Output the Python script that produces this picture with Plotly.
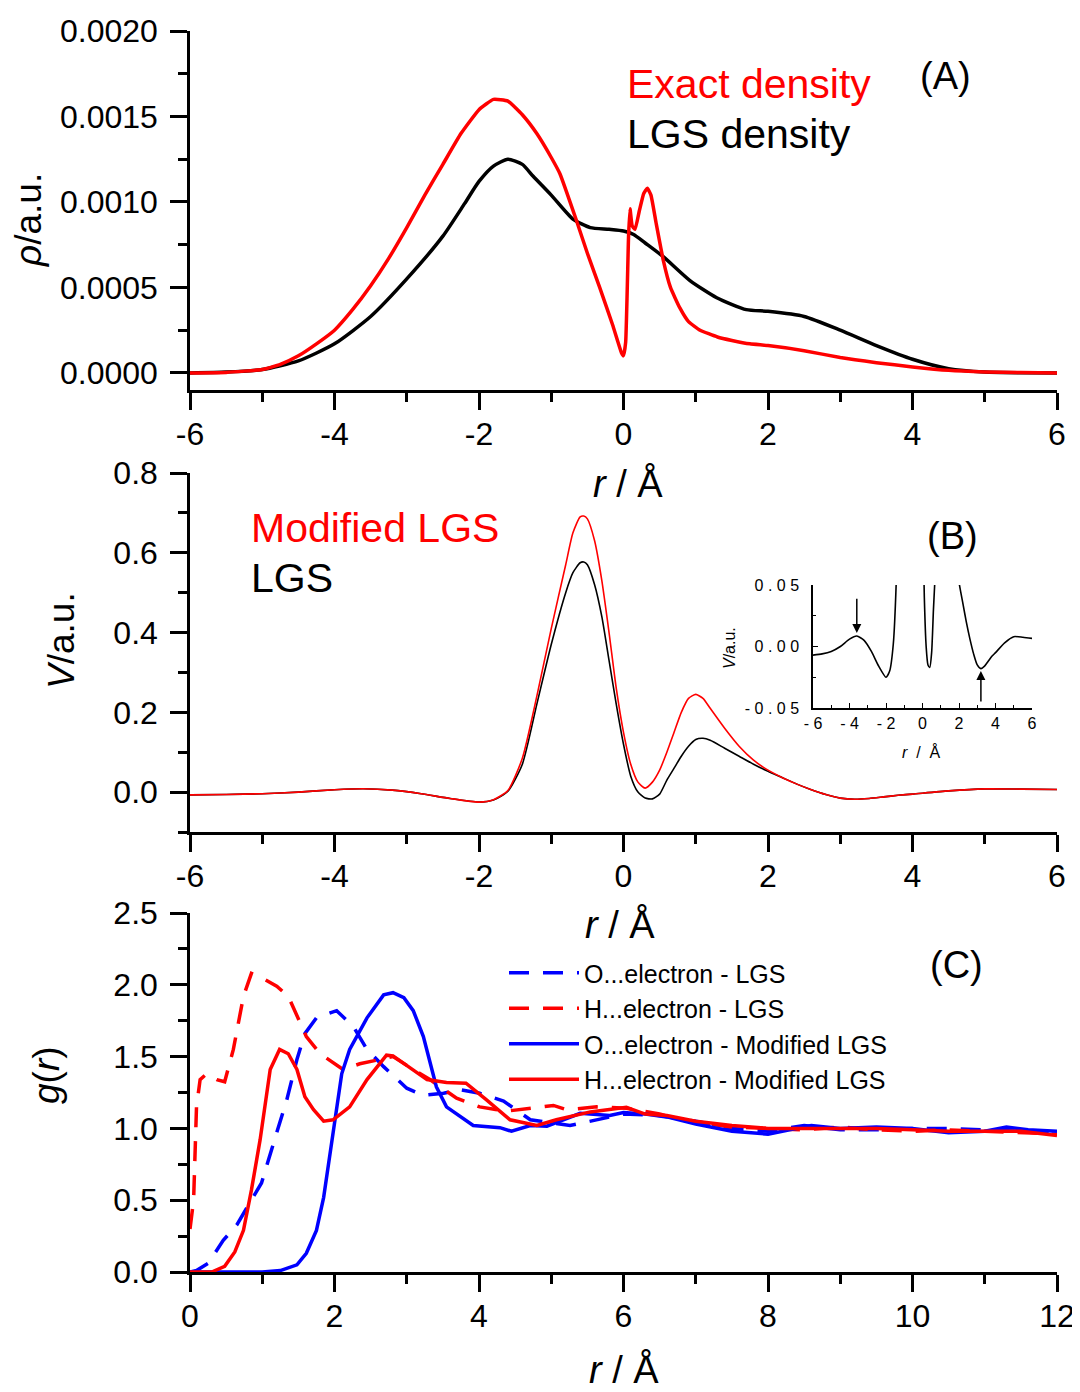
import plotly.graph_objects as go

W, H = 1080, 1392
OFF = 8  # page body margin of the html page
FONT = "Liberation Sans"

# ---------------- Panel A: densities ----------------
rA_exact = [-6.0, -5.5, -5.0, -4.75, -4.5, -4.25, -4.0, -3.75, -3.5, -3.25, -3.0, -2.75, -2.5,
            -2.25, -2.0, -1.8, -1.6, -1.4, -1.2, -1.0, -0.88, -0.65, -0.5, -0.33, -0.15, -0.03,
            0.0, 0.03, 0.07, 0.09, 0.12, 0.16, 0.22, 0.28, 0.33, 0.38, 0.45, 0.55, 0.65, 0.78,
            0.9, 1.06, 1.3, 1.5, 1.75, 2.0, 2.5, 3.0, 3.5, 4.0, 4.5, 5.0, 5.5, 6.0]
rho_exact = [0.0, 0.000003, 0.00002, 0.00005, 0.0001, 0.00017, 0.00025, 0.00037, 0.00051,
             0.00067, 0.00085, 0.00104, 0.00122, 0.0014, 0.00154, 0.00160, 0.00159, 0.00151,
             0.0014, 0.00126, 0.001165, 0.00089, 0.0007, 0.0005, 0.00028, 0.00012,
             0.0001, 0.00018, 0.0008, 0.00096, 0.00086, 0.00084, 0.00095, 0.00105, 0.00108,
             0.00104, 0.00088, 0.00066, 0.0005, 0.00038, 0.0003, 0.00025, 0.00021, 0.00019,
             0.00017, 0.00016, 0.00013, 0.00009, 0.00006, 0.000035, 0.000015, 0.000006,
             0.000002, 0.0]
rA_lgs = [-6.0, -5.5, -5.0, -4.5, -4.0, -3.5, -3.0, -2.5, -2.2, -2.0, -1.8, -1.6, -1.4, -1.25,
          -1.0, -0.7, -0.46, -0.2, 0.0, 0.14, 0.3, 0.55, 0.92, 1.29, 1.7, 2.0, 2.5, 3.0, 3.5,
          4.0, 4.5, 5.0, 5.5, 6.0]
rho_lgs = [0.0, 0.000005, 0.00002, 0.00007, 0.00017, 0.00033, 0.00055, 0.0008, 0.00099,
           0.00112, 0.00121, 0.00125, 0.00122, 0.00115, 0.00104, 0.0009, 0.00085, 0.00084,
           0.00083, 0.00081, 0.00076, 0.00068, 0.00054, 0.00044, 0.00037, 0.00036, 0.00033,
           0.00025, 0.00016, 0.00008, 0.000025, 0.000005, 0.000001, 0.0]

# ---------------- Panel B: potentials ----------------
rB = [-6.0, -5.5, -5.0, -4.5, -4.0, -3.6, -3.2, -2.8, -2.4, -2.0, -1.8, -1.6, -1.4, -1.2, -1.0,
      -0.8, -0.7, -0.6, -0.55, -0.5, -0.4, -0.3, -0.2, -0.1, 0.0, 0.1, 0.2, 0.3, 0.4, 0.5,
      0.6, 0.7, 0.8, 0.9, 1.0, 1.1, 1.2, 1.4, 1.6, 1.8, 2.0, 2.2, 2.4, 2.6, 2.8, 3.0, 3.2,
      3.4, 3.6, 3.8, 4.0, 4.5, 5.0, 5.5, 6.0]
V_lgs = [-0.007, -0.006, -0.004, 0.0, 0.006, 0.0085, 0.005, -0.004, -0.016, -0.025, -0.02,
         0.002, 0.07, 0.22, 0.37, 0.50, 0.55, 0.575, 0.577, 0.57, 0.52, 0.44, 0.33, 0.22,
         0.12, 0.04, 0.0, -0.015, -0.017, -0.005, 0.03, 0.06, 0.09, 0.115, 0.132, 0.135,
         0.13, 0.11, 0.09, 0.07, 0.052, 0.036, 0.02, 0.006, -0.006, -0.015, -0.018, -0.016,
         -0.012, -0.008, -0.005, 0.003, 0.008, 0.0075, 0.0066]
V_mod = [-0.007, -0.006, -0.004, 0.0, 0.006, 0.0085, 0.005, -0.004, -0.016, -0.025, -0.019,
         0.004, 0.085, 0.24, 0.41, 0.57, 0.65, 0.69, 0.692, 0.685, 0.63, 0.53, 0.40, 0.26,
         0.15, 0.07, 0.025, 0.01, 0.025, 0.055, 0.10, 0.15, 0.20, 0.235, 0.245, 0.235, 0.21,
         0.16, 0.115, 0.08, 0.055, 0.036, 0.02, 0.006, -0.006, -0.015, -0.018, -0.016,
         -0.012, -0.008, -0.005, 0.003, 0.008, 0.0075, 0.0066]

# ---------------- Panel C: radial distribution functions ----------------
r_O_lgs = [0.0, 0.09, 0.25, 0.46, 0.65, 0.99, 1.2, 1.34, 1.48, 1.59, 1.75, 2.03, 2.26, 2.45,
           2.68, 3.0, 3.23, 3.51, 3.74, 4.01, 4.34, 4.71, 5.26, 5.54, 5.86, 6.0, 6.5, 7.0, 7.5,
           8.0, 8.5, 9.0, 9.5, 10.0, 10.5, 11.0, 11.5, 12.0]
g_O_lgs = [0.0, 0.01, 0.06, 0.22, 0.33, 0.62, 0.97, 1.2, 1.48, 1.66, 1.77, 1.82, 1.71, 1.55,
           1.43, 1.28, 1.23, 1.245, 1.27, 1.245, 1.19, 1.06, 1.02, 1.05, 1.09, 1.1, 1.09, 1.05,
           1.0, 0.98, 1.02, 0.99, 0.99, 1.0, 1.0, 0.99, 0.98, 0.97]
r_H_lgs = [0.0, 0.05, 0.09, 0.14, 0.23, 0.37, 0.48, 0.6, 0.74, 0.85, 1.01, 1.2, 1.36, 1.48,
           1.61, 1.8, 2.12, 2.35, 2.63, 2.81, 3.09, 3.32, 3.69, 4.01, 4.38, 4.71, 5.03, 5.21,
           5.63, 6.04, 6.5, 7.0, 7.5, 8.0, 8.5, 9.0, 9.5, 10.0, 10.5, 11.0, 11.5, 12.0]
g_H_lgs = [0.3, 0.5, 1.15, 1.34, 1.38, 1.34, 1.325, 1.55, 1.92, 2.08, 2.045, 1.99, 1.92, 1.78,
           1.64, 1.52, 1.41, 1.45, 1.48, 1.5, 1.41, 1.34, 1.21, 1.15, 1.12, 1.14, 1.16, 1.13,
           1.15, 1.14, 1.1, 1.04, 1.01, 1.0, 0.99, 1.01, 0.99, 0.98, 0.99, 0.98, 0.97, 0.96]
r_O_mod = [0.0, 0.5, 1.0, 1.25, 1.48, 1.61, 1.75, 1.85, 1.94, 2.03, 2.1, 2.21, 2.45, 2.68,
           2.81, 2.96, 3.09, 3.23, 3.41, 3.55, 3.74, 3.92, 4.29, 4.45, 4.71, 4.94, 5.4, 5.81,
           6.0, 6.3, 6.6, 7.0, 7.5, 8.0, 8.3, 8.6, 9.0, 9.5, 10.0, 10.5, 11.0, 11.3, 11.6, 12.0]
g_O_mod = [0.0, 0.0, 0.0, 0.01, 0.05, 0.13, 0.29, 0.52, 0.83, 1.13, 1.38, 1.55, 1.77, 1.93,
           1.945, 1.91, 1.82, 1.64, 1.29, 1.15, 1.08, 1.02, 1.005, 0.98, 1.02, 1.015, 1.105,
           1.09, 1.11, 1.1, 1.08, 1.03, 0.98, 0.96, 0.99, 1.02, 1.0, 1.01, 1.0, 0.97, 0.98,
           1.01, 0.99, 0.98]
r_H_mod = [0.0, 0.3, 0.48, 0.62, 0.74, 0.85, 0.97, 1.11, 1.24, 1.36, 1.48, 1.59, 1.71, 1.85,
           1.98, 2.21, 2.45, 2.72, 2.81, 3.0, 3.28, 3.55, 3.82, 4.1, 4.43, 4.8, 5.07, 5.54,
           5.81, 6.04, 6.3, 6.6, 7.0, 7.5, 8.0, 8.5, 9.0, 9.5, 10.0, 10.5, 11.0, 11.5, 12.0]
g_H_mod = [0.0, 0.0, 0.04, 0.14, 0.29, 0.57, 0.92, 1.41, 1.55, 1.52, 1.41, 1.22, 1.13, 1.05,
           1.06, 1.15, 1.34, 1.51, 1.505, 1.44, 1.34, 1.32, 1.315, 1.2, 1.06, 1.02, 1.06, 1.115,
           1.135, 1.147, 1.1, 1.09, 1.05, 1.02, 1.0, 1.0, 1.0, 1.0, 0.99, 0.98, 0.98, 0.98, 0.95]

# tick labels
ticks_rho = [0.0, 0.0005, 0.0010, 0.0015, 0.0020]
ticks_rho_text = ["0.0000", "0.0005", "0.0010", "0.0015", "0.0020"]
ticks_V = [0.0, 0.2, 0.4, 0.6, 0.8]
ticks_V_text = ["0.0", "0.2", "0.4", "0.6", "0.8"]
ticks_g = [0.0, 0.5, 1.0, 1.5, 2.0, 2.5]
ticks_g_text = ["0.0", "0.5", "1.0", "1.5", "2.0", "2.5"]
ticks_r6 = [-6, -4, -2, 0, 2, 4, 6]
ticks_r6_text = ["-6", "-4", "-2", "0", "2", "4", "6"]
ticks_r12 = [0, 2, 4, 6, 8, 10, 12]
ticks_r12_text = ["0", "2", "4", "6", "8", "10", "12"]
inset_xt = [-6, -4, -2, 0, 2, 4, 6]
inset_xt_text = ["- 6", "- 4", "- 2", "0", "2", "4", "6"]
inset_yt = [-0.05, 0.0, 0.05]
inset_yt_text = ["- 0 . 0 5", "0 . 0 0", "0 . 0 5"]

RED = "#ff0000"
BLUE = "#0000ff"


def px(x):
    return (x - OFF) / W


def py(y):
    return 1 - (y - OFF) / H


fig = go.Figure()

# Panel A
fig.add_trace(go.Scatter(x=rA_lgs, y=rho_lgs, mode="lines", line=dict(color="black", width=3.5, shape="spline", smoothing=0.6),
                         xaxis="x", yaxis="y", showlegend=False))
fig.add_trace(go.Scatter(x=rA_exact, y=rho_exact, mode="lines", line=dict(color=RED, width=3.5, shape="spline", smoothing=0.4),
                         xaxis="x", yaxis="y", showlegend=False))
# Panel B
fig.add_trace(go.Scatter(x=rB, y=V_lgs, mode="lines", line=dict(color="black", width=1.6, shape="spline", smoothing=0.6),
                         xaxis="x2", yaxis="y2", showlegend=False))
fig.add_trace(go.Scatter(x=rB, y=V_mod, mode="lines", line=dict(color=RED, width=1.6, shape="spline", smoothing=0.6),
                         xaxis="x2", yaxis="y2", showlegend=False))
# Inset
fig.add_trace(go.Scatter(x=rB, y=V_lgs, mode="lines", line=dict(color="black", width=1.6, shape="spline", smoothing=0.6),
                         xaxis="x4", yaxis="y4", showlegend=False, cliponaxis=True))
# Panel C
dash = "20px,14px"
fig.add_trace(go.Scatter(x=r_O_lgs, y=g_O_lgs, mode="lines", name="O...electron - LGS",
                         line=dict(color=BLUE, width=3.5, dash=dash), xaxis="x3", yaxis="y3"))
fig.add_trace(go.Scatter(x=r_H_lgs, y=g_H_lgs, mode="lines", name="H...electron - LGS",
                         line=dict(color=RED, width=3.5, dash=dash), xaxis="x3", yaxis="y3"))
fig.add_trace(go.Scatter(x=r_O_mod, y=g_O_mod, mode="lines", name="O...electron - Modified LGS",
                         line=dict(color=BLUE, width=3.5), xaxis="x3", yaxis="y3"))
fig.add_trace(go.Scatter(x=r_H_mod, y=g_H_mod, mode="lines", name="H...electron - Modified LGS",
                         line=dict(color=RED, width=3.5), xaxis="x3", yaxis="y3"))

TF = 32
common = dict(showline=True, linewidth=2.5, linecolor="black", ticks="outside", ticklen=17,
              tickwidth=2.5, tickcolor="black", showgrid=False, zeroline=False, automargin=False,
              tickfont=dict(size=TF, color="black", family=FONT))


def minor(d, t0=0):
    return dict(ticks="outside", ticklen=9, tickwidth=2.5, tickcolor="black", dtick=d, tick0=t0)


XSO = -3  # x tick label standoff
YSO = 6   # y tick label standoff
xdom = [px(190), px(1057)]
inset_common = dict(showline=True, linewidth=1.5, linecolor="black", ticks="inside", ticklen=5,
                    tickwidth=1.2, tickcolor="black", showgrid=False, zeroline=False, automargin=False,
                    tickfont=dict(size=16, color="black", family=FONT))
fig.update_layout(
    width=W, height=H, autosize=False, margin=dict(l=0, r=0, t=0, b=0, pad=0, autoexpand=False),
    paper_bgcolor="white", plot_bgcolor="rgba(0,0,0,0)",
    font=dict(family=FONT, color="black"),
    xaxis=dict(domain=xdom, anchor="y", range=[-6, 6], tickvals=ticks_r6, ticktext=ticks_r6_text,
               minor=minor(1), ticklabelstandoff=XSO, **common),
    yaxis=dict(domain=[py(390), py(31)], anchor="x", range=[-0.0001, 0.002], tickvals=ticks_rho,
               ticktext=ticks_rho_text, minor=minor(0.00025), ticklabelstandoff=YSO, **common),
    xaxis2=dict(domain=xdom, anchor="y2", range=[-6, 6], tickvals=ticks_r6, ticktext=ticks_r6_text,
                minor=minor(1), ticklabelstandoff=XSO, **common),
    yaxis2=dict(domain=[py(832), py(473)], anchor="x2", range=[-0.1, 0.8], tickvals=ticks_V,
                ticktext=ticks_V_text, minor=minor(0.1), ticklabelstandoff=YSO, **common),
    xaxis3=dict(domain=xdom, anchor="y3", range=[0, 12], tickvals=ticks_r12, ticktext=ticks_r12_text,
                minor=minor(1), ticklabelstandoff=XSO, **common),
    yaxis3=dict(domain=[py(1272), py(913)], anchor="x3", range=[0, 2.5], tickvals=ticks_g,
                ticktext=ticks_g_text, minor=minor(0.25), ticklabelstandoff=YSO, **common),
    xaxis4=dict(domain=[px(813), px(1032)], anchor="y4", range=[-6, 6], tickvals=inset_xt,
                ticktext=inset_xt_text,
                minor=dict(ticks="inside", ticklen=3, tickwidth=1.2, tickcolor="black", dtick=1),
                **inset_common),
    yaxis4=dict(domain=[py(708), py(585)], anchor="x4", range=[-0.05, 0.05], tickvals=inset_yt,
                ticktext=inset_yt_text, ticklabelstandoff=9,
                minor=dict(ticks="inside", ticklen=3, tickwidth=1.2, tickcolor="black", dtick=0.025),
                **inset_common),
    legend=dict(x=px(504), y=py(950), xanchor="left", yanchor="top", bgcolor="rgba(0,0,0,0)",
                font=dict(size=25, color="black", family=FONT), tracegroupgap=0, itemwidth=70),
)

annots = [
    # panel texts
    dict(x=px(625), y=py(84), text="Exact density", font=dict(size=41, color=RED), xanchor="left"),
    dict(x=px(625), y=py(134), text="LGS density", font=dict(size=41, color="black"), xanchor="left"),
    dict(x=px(945), y=py(76), text="(A)", font=dict(size=38, color="black"), xanchor="center"),
    dict(x=px(249), y=py(528), text="Modified LGS", font=dict(size=41, color=RED), xanchor="left"),
    dict(x=px(249), y=py(578), text="LGS", font=dict(size=41, color="black"), xanchor="left"),
    dict(x=px(952), y=py(536), text="(B)", font=dict(size=38, color="black"), xanchor="center"),
    dict(x=px(956), y=py(965), text="(C)", font=dict(size=38, color="black"), xanchor="center"),
    # axis titles
    dict(x=px(628), y=py(483), text="<i>r</i> / Å", font=dict(size=38, color="black"), xanchor="center"),
    dict(x=px(620), y=py(924), text="<i>r</i> / Å", font=dict(size=38, color="black"), xanchor="center"),
    dict(x=px(624), y=py(1369), text="<i>r</i> / Å", font=dict(size=38, color="black"), xanchor="center"),
    dict(x=px(28), y=py(220), text="<i>ρ</i>/a.u.", font=dict(size=37, color="black"), textangle=-90),
    dict(x=px(62), y=py(641), text="<i>V</i>/a.u.", font=dict(size=37, color="black"), textangle=-90),
    dict(x=px(46), y=py(1075), text="<i>g</i>(<i>r</i>)", font=dict(size=37, color="black"), textangle=-90),
    # inset titles
    dict(x=px(729), y=py(648), text="<i>V</i>/a.u.", font=dict(size=16, color="black"), textangle=-90),
    dict(x=px(921), y=py(752), text="<i>r</i>  /  Å", font=dict(size=16, color="black"), xanchor="center"),
]
for a in annots:
    a.setdefault("xref", "paper")
    a.setdefault("yref", "paper")
    a.setdefault("showarrow", False)
    a.setdefault("yanchor", "middle")
    a.setdefault("xanchor", "center")
    a["font"]["family"] = FONT
    fig.add_annotation(**a)

# inset arrows marking the extrema
arrow_marks = [(-3.6, 0.011, 0.04), (3.2, -0.02, -0.046)]
for xa, ytip, ytail in arrow_marks:
    fig.add_annotation(x=xa, y=ytip, ax=xa, ay=ytail, xref="x4", yref="y4", axref="x4", ayref="y4",
                       showarrow=True, arrowhead=2, arrowsize=1.2, arrowwidth=1.5, arrowcolor="black", text="")

fig.write_html("out.html")
